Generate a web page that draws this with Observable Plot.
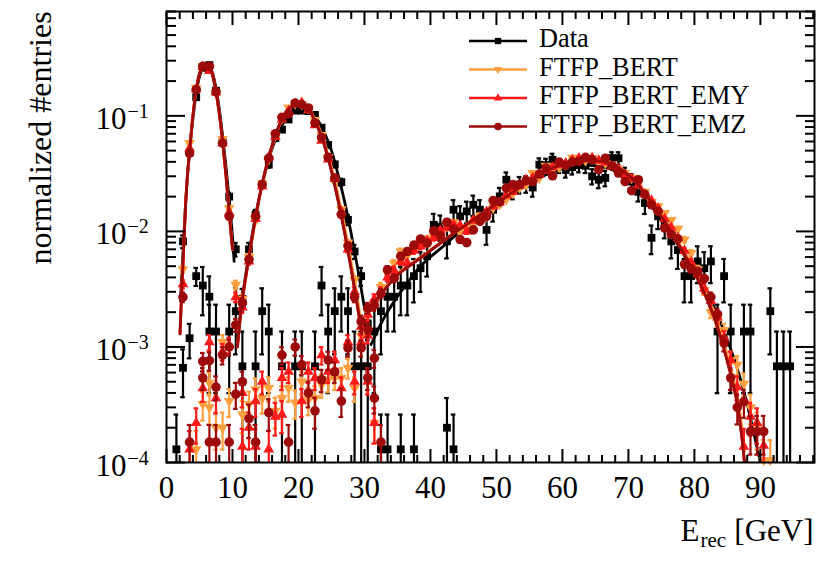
<!DOCTYPE html>
<html>
<head>
<meta charset="utf-8">
<script src="https://cdn.jsdelivr.net/npm/d3@7"></script>
<script src="https://cdn.jsdelivr.net/npm/@observablehq/plot@0.6"></script>
<style>
  body { margin: 0; background: #fff; }
  #wrap { position: relative; width: 830px; height: 564px; }
</style>
</head>
<body>
<div id="wrap"></div>
<script>
const serif = "'Liberation Serif', 'Times New Roman', serif";

// ---------- tick values / labels ----------
const xMajor = [0, 10, 20, 30, 40, 50, 60, 70, 80, 90];
const xMinor = [2,4,6,8,12,14,16,18,22,24,26,28,32,34,36,38,42,44,46,48,52,54,56,58,62,64,66,68,72,74,76,78,82,84,86,88,92,94,96,98];
const yMajor = [1e-4, 1e-3, 1e-2, 1e-1];
const yExponents = ["\u22124", "\u22123", "\u22122", "\u22121"];
const yMinor = [2e-4,3e-4,4e-4,5e-4,6e-4,7e-4,8e-4,9e-4,2e-3,3e-3,4e-3,5e-3,6e-3,7e-3,8e-3,9e-3,
                2e-2,3e-2,4e-2,5e-2,6e-2,7e-2,8e-2,9e-2,0.2,0.3,0.4,0.5,0.6,0.7,0.8];

// ---------- Data (black); bin centres k+0.5 GeV ----------
const dataUnitFine = 1.3e-4;    // weight of one entry (fine histograms)
const dataUnitCoarse = 6.8e-4;  // weight of one entry (coarse histogram)
const dataPeak10Start = 2.5;
const dataPeak10 = [8.2e-3, 0.048, 0.145, 0.26, 0.275, 0.165, 0.062, 0.020, 7.0e-3];
const dataPeak30Start = 11.5;
const dataPeak30 = [2.6e-3, 7.0e-3, 0.014, 0.0254, 0.0378, 0.064, 0.076, 0.093, 0.111, 0.111,
                    0.110, 0.102, 0.079, 0.056, 0.038, 0.0267, 0.0126, 6.7e-3, 4.1e-3, 1.6e-3];
const dataPeak100Start = 31.5;
const dataPeak100 = [1.36e-3, 2.04e-3, 2.72e-3, 2.72e-3, 3.4e-3, 3.4e-3, 4.1e-3, 4.8e-3, 6.1e-3, 0.0114,
                     0.011, 8.2e-3, 0.0154, 0.0135, 0.0149, 0.017, 0.0154, 0.0103, 0.0154, 0.0201,
                     0.028, 0.0229, 0.0254, 0.0258, 0.024, 0.0378, 0.0375, 0.0417, 0.037, 0.034,
                     0.036, 0.0375, 0.037, 0.030, 0.028, 0.029, 0.043, 0.043, 0.031, 0.027,
                     0.022, 0.0176, 8.8e-3, 0.0135, 0.0115, 8.2e-3, 6.9e-3, 4.1e-3, 4.1e-3, 5.5e-3,
                     4.8e-3, 5.5e-3, 1.36e-3, 4.1e-3, 1.36e-3, null, 1.36e-3, 1.36e-3, null, null,
                     2.04e-3, 6.8e-4, 6.8e-4, 6.8e-4];
const dataLowX = [5.5, 6.5, 6.5, 7.5, 9.5, 10.5, 11.5, 13.5, 14.5, 15.5, 17.5, 19.5, 20.5, 22.5, 23.5, 24.5, 25.5, 26.5, 27.5, 28.5, 29.5, 30.5];
const dataLowY = [3.4e-3, 2.72e-3, 1.36e-3, 1.36e-3, 1.36e-3, 2.04e-3, 6.8e-4, 6.8e-4, 2.04e-3, 1.36e-3, 6.8e-4, 6.8e-4, 6.8e-4, 6.8e-4, 3.4e-3, 1.36e-3, 2.04e-3, 2.72e-3, 2.04e-3, 6.8e-4, 6.8e-4, 6.8e-4];
const dataTailX = [1.5, 2.5, 3.5, 4.5, 32.5, 33.5, 35.5, 37.5, 42.5, 43.5];
const dataTailY = [1.3e-4, 6.6e-4, 1.19e-3, 4.1e-3, 1.3e-4, 1.3e-4, 1.3e-4, 1.3e-4, 2.0e-4, 1.3e-4];

// ---------- simulations ----------
const mcUnit = 2.5e-5;
const mcPeak10Start = 2.5, mcPeak30Start = 11.5, mcPeak100Start = 30.5;

// FTFP_BERT (orange)
const bertPeak10 = [4.7e-3, 0.058, 0.175, 0.27, 0.262, 0.158, 0.063, 0.0159, 3.45e-3];
const bertPeak30 = [2.6e-3, 6.0e-3, 0.0125, 0.026, 0.042, 0.068, 0.095, 0.118, 0.128, 0.125,
                    0.116, 0.092, 0.068, 0.044, 0.027, 0.0155, 8.0e-3, 3.8e-3, 1.24e-3, 1.4e-3];
const bertPeak100 = [2.0e-3, 2.4e-3, 3.3e-3, 4.3e-3, 5.3e-3, 6.7e-3, 6.2e-3, 7.0e-3, 7.8e-3, 8.6e-3,
                     9.0e-3, 9.8e-3, 0.011, 0.012, 0.010, 0.0108, 0.0118, 0.0137, 0.0135, 0.016,
                     0.0172, 0.019, 0.0215, 0.024, 0.0254, 0.032, 0.029, 0.037, 0.034, 0.036,
                     0.038, 0.0433, 0.042, 0.041, 0.043, 0.040, 0.039, 0.038, 0.035, 0.032,
                     0.029, 0.026, 0.022, 0.018, 0.0165, 0.0144, 0.0125, 0.0105, 0.0085, 0.0065,
                     0.0047, 0.0031, 0.0020, 0.0017, 1.4e-3, 7.7e-4, 7.0e-4, 4.8e-4, 3.0e-4, 2.0e-4,
                     1.05e-4, 1.05e-4];
const bertLowX = [4.5, 5.5, 6.5, 6.5, 7.5, 8.5, 8.5, 9.5, 11.5, 12.5, 13.5, 14.5, 15.5, 16.5, 17.5, 18.5, 19.5, 20.5, 21.5, 22.5, 23.5, 24.5, 25.5, 26.5, 27.5, 28.5, 31.5];
const bertLowY = [1.3e-4, 3.2e-4, 4.9e-4, 3.0e-4, 2.0e-4, 2.0e-4, 1.1e-3, 3.4e-4, 2.6e-4, 3.2e-4, 4.3e-4, 3.6e-4, 4.4e-4, 2.8e-4, 3.6e-4, 4.4e-4, 3.3e-4, 5.0e-4, 3.5e-4, 3.6e-4, 4.7e-4, 5.2e-4, 5.4e-4, 5.4e-4, 6.6e-4, 4.4e-4, 2.2e-4];

// FTFP_BERT_EMY (red)
const emyPeak10 = [3.5e-3, 0.052, 0.17, 0.265, 0.245, 0.16, 0.058, 0.0145, 2.7e-3];
const emyPeak30 = [2.2e-3, 5.5e-3, 0.0128, 0.0245, 0.044, 0.066, 0.093, 0.110, 0.127, 0.130,
                   0.112, 0.083, 0.061, 0.042, 0.0285, 0.0148, 7.0e-3, 3.0e-3, 1.5e-3, 1.25e-3];
const emyPeak100 = [1.9e-3, 2.6e-3, 3.0e-3, 4.0e-3, 4.6e-3, 5.5e-3, 5.3e-3, 6.8e-3, 7.4e-3, 8.3e-3,
                    8.8e-3, 0.0102, 0.0108, 0.0115, 0.0112, 0.0100, 0.0125, 0.0128, 0.0148, 0.0165,
                    0.0178, 0.0205, 0.022, 0.0248, 0.028, 0.029, 0.031, 0.0335, 0.036, 0.0375,
                    0.039, 0.0415, 0.043, 0.042, 0.0435, 0.041, 0.0395, 0.0365, 0.0345, 0.031,
                    0.0285, 0.025, 0.021, 0.0185, 0.0158, 0.0128, 0.0108, 0.0088, 0.0068, 0.0054,
                    0.0043, 0.0032, 0.0025, 0.0018, 0.0012, 7.7e-4, 4.5e-4, 1.37e-4, 2.5e-4, 2.2e-4,
                    1.4e-4, null];
const emyLowX = [3.5, 4.5, 5.5, 6.5, 7.5, 8.5, 9.5, 11.5, 11.5, 12.5, 13.5, 13.5, 14.5, 15.5, 16.5, 17.5, 17.5, 18.5, 20.5, 21.5, 22.5, 23.5, 24.5, 25.5, 26.5, 27.5, 28.5, 29.5, 30.5, 31.5];
const emyLowY = [1.3e-4, 2.2e-4, 4.4e-4, 1.1e-3, 3.6e-4, 9.1e-4, 1.04e-3, 4.0e-4, 1.37e-4, 2.0e-4, 3.4e-4, 1.37e-4, 5.0e-4, 1.3e-4, 2.5e-4, 5.4e-4, 2.6e-4, 6.1e-4, 3.4e-4, 6.1e-4, 5.4e-4, 8.5e-4, 6.1e-4, 7.7e-4, 4.4e-4, 1.1e-3, 5.0e-4, 1.1e-3, 5.0e-4, 2.2e-4];

// FTFP_BERT_EMZ (dark red)
const emzPeak10 = [2.7e-3, 0.0477, 0.169, 0.268, 0.268, 0.161, 0.058, 0.0135, 1.55e-3];
const emzPeak30 = [2.4e-3, 5.7e-3, 0.0135, 0.0254, 0.043, 0.070, 0.097, 0.104, 0.129, 0.125,
                   0.117, 0.0867, 0.065, 0.0437, 0.029, 0.014, 7.5e-3, 2.7e-3, 1.66e-3, 1.4e-3];
const emzPeak100 = [2.17e-3, 2.3e-3, 2.9e-3, 4.66e-3, 3.94e-3, 6.1e-3, 6.7e-3, 7.6e-3, 8.6e-3, 7.9e-3,
                    0.0101, 9.2e-3, 0.012, 0.0105, 8.5e-3, 8.0e-3, 0.0103, 0.0122, 0.0135, 0.0185,
                    0.018, 0.0237, 0.0254, 0.0254, 0.0275, 0.027, 0.0313, 0.0353, 0.0303, 0.0398,
                    0.0373, 0.0398, 0.0404, 0.0437, 0.0417, 0.0342, 0.043, 0.037, 0.032, 0.027,
                    0.0225, 0.028, 0.0208, 0.017, 0.0149, 0.0107, 9.4e-3, 8.6e-3, 5.2e-3, 4.75e-3,
                    4.5e-3, 3.9e-3, 2.7e-3, 1.92e-3, 1.08e-3, 5.4e-4, 3.0e-4, 3.35e-4, 1.85e-4, 1.85e-4,
                    1.85e-4];
const emzLowX = [3.5, 5.5, 5.5, 6.5, 6.5, 7.5, 7.5, 8.5, 9.5, 9.5, 10.5, 11.5, 12.5, 13.5, 15.5, 17.5, 18.5, 19.5, 20.5, 21.5, 22.5, 23.5, 24.5, 25.5, 26.5, 27.5, 29.5, 30.5, 31.5, 31.5, 32.5];
const emzLowY = [1.5e-4, 7.5e-4, 5.4e-4, 7.6e-4, 1.5e-4, 4.5e-4, 1.5e-4, 8.5e-4, 1.5e-4, 1.0e-3, 3.9e-4, 5.0e-4, 2.4e-4, 1.5e-4, 2.7e-4, 8.5e-4, 1.5e-4, 1.0e-3, 7.0e-4, 4.0e-4, 2.8e-4, 5.2e-4, 7.7e-4, 6.1e-4, 3.4e-4, 9.8e-4, 9.8e-4, 5.4e-4, 8.0e-4, 3.6e-4, 1.5e-4];

// ---------- fitted curves (knots) ----------
const dataFit1X = [2.1, 2.3, 2.6, 2.9, 3.2, 3.5, 4.0, 4.5, 5.0, 5.5, 6.0, 6.5, 7.0, 7.5, 8.0, 8.5, 9.0, 9.5, 10.0, 10.25];
const dataFit1Y = [2.5e-3, 4.0e-3, 8.5e-3, 0.018, 0.031, 0.048, 0.094, 0.155, 0.218, 0.26, 0.278, 0.27, 0.232, 0.175, 0.115, 0.067, 0.037, 0.019, 9.0e-3, 5.5e-3];
const dataFit2X = [11.0, 12, 13, 14, 15, 16, 17, 18, 19, 20, 21, 22, 23, 24, 25, 26, 27, 28, 29, 30, 30.7];
const dataFit2Y = [1.6e-3, 4.2e-3, 9.5e-3, 0.019, 0.033, 0.052, 0.073, 0.092, 0.106, 0.113, 0.113, 0.105, 0.09, 0.07, 0.05, 0.031, 0.018, 9.5e-3, 4.7e-3, 2.2e-3, 1.4e-3];
const dataFit3X = [31.0, 33, 35.5, 38.5, 42, 45, 48, 51, 54, 57, 60, 63, 65, 67, 69, 71, 73, 75, 77, 79, 81, 83, 85, 86.5, 88, 89, 90];
const dataFit3Y = [1.05e-3, 1.8e-3, 3.0e-3, 5.0e-3, 7.5e-3, 0.0105, 0.014, 0.018, 0.024, 0.030, 0.035, 0.037, 0.037, 0.035, 0.031, 0.025, 0.018, 0.0125, 8.5e-3, 5.5e-3, 3.6e-3, 2.2e-3, 1.15e-3, 6.5e-4, 3.2e-4, 1.8e-4, 1.0e-4];
const mcFit1X = [2.05, 2.3, 2.6, 2.9, 3.2, 3.5, 4.0, 4.5, 5.0, 5.5, 6.0, 6.5, 7.0, 7.5, 8.0, 8.5, 9.0, 9.5, 10.0];
const mcFit1Y = [1.3e-3, 3.0e-3, 7.0e-3, 0.017, 0.032, 0.05, 0.1, 0.168, 0.232, 0.268, 0.278, 0.265, 0.222, 0.162, 0.104, 0.06, 0.031, 0.0145, 7.0e-3];
const mcFit2X = [10.75, 11.5, 12.5, 13.5, 14.5, 15.5, 16.5, 17.5, 18.5, 19.5, 20.5, 21.5, 22.5, 23.5, 24.5, 25.5, 26.5, 27.5, 28.5, 29.6];
const mcFit2Y = [1.0e-3, 2.6e-3, 6.0e-3, 0.0132, 0.026, 0.044, 0.068, 0.093, 0.114, 0.127, 0.127, 0.114, 0.091, 0.066, 0.043, 0.025, 0.0135, 6.8e-3, 3.2e-3, 1.3e-3];
const bertFit2Y = [1.0e-3, 2.5e-3, 5.8e-3, 0.0128, 0.0255, 0.043, 0.067, 0.092, 0.114, 0.127, 0.128, 0.116, 0.094, 0.069, 0.046, 0.028, 0.0152, 7.8e-3, 3.7e-3, 1.5e-3];
const mcFit3X = [31.7, 33, 35, 38.5, 42, 45, 48, 51, 54, 57, 60, 63, 65, 67, 69, 71, 73, 75, 77, 79, 81, 83, 85, 86.5, 87.6];
const mcFit3Y = [2.5e-3, 3.1e-3, 4.2e-3, 5.9e-3, 8.3e-3, 0.011, 0.0145, 0.019, 0.025, 0.032, 0.038, 0.041, 0.041, 0.039, 0.034, 0.027, 0.0195, 0.0135, 8.8e-3, 5.6e-3, 3.4e-3, 1.8e-3, 7.5e-4, 3.2e-4, 1.0e-4];
const bertFit3Y = [2.5e-3, 3.2e-3, 4.3e-3, 6.0e-3, 8.4e-3, 0.0111, 0.0145, 0.019, 0.0248, 0.0318, 0.0378, 0.041, 0.041, 0.0392, 0.0345, 0.0275, 0.020, 0.014, 9.2e-3, 5.9e-3, 3.6e-3, 2.0e-3, 8.5e-4, 3.8e-4, 1.25e-4];

// ---------- helpers ----------
const fromStart = (start, ys, unit) => ys.map((y, i) => ({x: start + i, y, unit})).filter(d => d.y != null);
const fromPairs = (xs, ys, unit) => xs.map((x, i) => ({x, y: ys[i], unit})).filter(d => d.y != null);
const withErrors = pts => pts.map(d => {
  const s = Math.sqrt(d.y * d.unit);
  return {...d, hi: d.y + s, lo: d.y - s > 0 ? d.y - s : 5e-5};
});
const curve = (xs, ys, seg) => xs.map((x, i) => ({x, y: ys[i], seg}));

const triangleDown = {
  draw(context, size) {
    const s3 = Math.sqrt(3);
    const y = -Math.sqrt(size / (s3 * 3));
    context.moveTo(0, -y * 2);
    context.lineTo(-s3 * y, y);
    context.lineTo(s3 * y, y);
    context.closePath();
  }
};

const series = [
  {name: "Data", color: "#000000", symbol: "square", r: 4.4, legendSym: d3.symbolSquare, legendSize: 40,
   points: withErrors([
     ...fromStart(dataPeak10Start, dataPeak10, dataUnitFine),
     ...fromStart(dataPeak30Start, dataPeak30, dataUnitFine),
     ...fromStart(dataPeak100Start, dataPeak100, dataUnitCoarse),
     ...fromPairs(dataLowX, dataLowY, dataUnitCoarse),
     ...fromPairs(dataTailX, dataTailY, dataUnitFine)]),
   fit: [...curve(dataFit1X, dataFit1Y, 1), ...curve(dataFit2X, dataFit2Y, 2), ...curve(dataFit3X, dataFit3Y, 3)]},
  {name: "FTFP_BERT", color: "#ffa040", symbol: triangleDown, r: 4.0, legendSym: triangleDown, legendSize: 30,
   points: withErrors([
     ...fromStart(mcPeak10Start, bertPeak10, mcUnit),
     ...fromStart(mcPeak30Start, bertPeak30, mcUnit),
     ...fromStart(mcPeak100Start, bertPeak100, mcUnit),
     ...fromPairs(bertLowX, bertLowY, mcUnit)]),
   fit: [...curve(mcFit1X, mcFit1Y, 1), ...curve(mcFit2X, bertFit2Y, 2), ...curve(mcFit3X, bertFit3Y, 3)]},
  {name: "FTFP_BERT_EMY", color: "#ff1a1a", symbol: "triangle", r: 4.0, legendSym: d3.symbolTriangle, legendSize: 30,
   points: withErrors([
     ...fromStart(mcPeak10Start, emyPeak10, mcUnit),
     ...fromStart(mcPeak30Start, emyPeak30, mcUnit),
     ...fromStart(mcPeak100Start, emyPeak100, mcUnit),
     ...fromPairs(emyLowX, emyLowY, mcUnit)]),
   fit: [...curve(mcFit1X, mcFit1Y, 1), ...curve(mcFit2X, mcFit2Y, 2), ...curve(mcFit3X, mcFit3Y, 3)]},
  {name: "FTFP_BERT_EMZ", color: "#9c0a0a", symbol: "circle", r: 4.8, legendSym: d3.symbolCircle, legendSize: 44,
   points: withErrors([
     ...fromStart(mcPeak10Start, emzPeak10, mcUnit),
     ...fromStart(mcPeak30Start, emzPeak30, mcUnit),
     ...fromStart(mcPeak100Start, emzPeak100, mcUnit),
     ...fromPairs(emzLowX, emzLowY, mcUnit)]),
   fit: [...curve(mcFit1X, mcFit1Y, 1), ...curve(mcFit2X, mcFit2Y, 2), ...curve(mcFit3X, mcFit3Y, 3)]}
];

const marks = [];
for (const s of series) {
  marks.push(Plot.ruleX(s.points, {x: "x", y1: "lo", y2: "hi", stroke: s.color, strokeWidth: 2.2, clip: true}));
  marks.push(Plot.ruleY(s.points, {y: "hi", x1: d => d.x - 0.35, x2: d => d.x + 0.35, stroke: s.color, strokeWidth: 2.2, clip: true}));
  marks.push(Plot.ruleY(s.points.filter(d => d.lo >= 1e-4), {y: "lo", x1: d => d.x - 0.35, x2: d => d.x + 0.35, stroke: s.color, strokeWidth: 2.2, clip: true}));
  marks.push(Plot.dot(s.points, {x: "x", y: "y", symbol: s.symbol, r: s.r, fill: s.color}));
  marks.push(Plot.line(s.fit, {x: "x", y: "y", z: "seg", stroke: s.color, strokeWidth: 2.8, curve: "catmull-rom", clip: true}));
}

// axes: inward ticks on all four sides
const tick = {tickFormat: () => "", label: null, stroke: "black", strokeWidth: 2};
marks.push(
  Plot.frame({stroke: "black", strokeWidth: 2}),
  Plot.axisX({...tick, ticks: xMajor, anchor: "bottom", tickSize: 13, dy: -13}),
  Plot.axisX({...tick, ticks: xMinor, anchor: "bottom", tickSize: 7, dy: -7}),
  Plot.axisX({...tick, ticks: xMajor, anchor: "top", tickSize: 13, dy: 13}),
  Plot.axisX({...tick, ticks: xMinor, anchor: "top", tickSize: 7, dy: 7}),
  Plot.axisY({...tick, ticks: yMajor, anchor: "left", tickSize: 19, dx: 19}),
  Plot.axisY({...tick, ticks: yMinor, anchor: "left", tickSize: 10, dx: 10}),
  Plot.axisY({...tick, ticks: yMajor, anchor: "right", tickSize: 19, dx: -19}),
  Plot.axisY({...tick, ticks: yMinor, anchor: "right", tickSize: 10, dx: -10}),
  // tick labels
  Plot.text(xMajor, {x: d => d, text: d => String(d), frameAnchor: "bottom", textAnchor: "middle", lineAnchor: "bottom", dy: 35, fontSize: 31, fill: "black"}),
  Plot.text(yMajor, {y: d => d, text: () => "10", frameAnchor: "left", textAnchor: "end", lineAnchor: "bottom", dx: -40, dy: 13, fontSize: 31, fill: "black"}),
  Plot.text(yMajor, {y: d => d, text: (d, i) => yExponents[i], frameAnchor: "left", textAnchor: "start", lineAnchor: "bottom", dx: -39, dy: 2, fontSize: 20, fill: "black"}),
  // axis titles
  Plot.text(["normalized #entries"], {text: d => d, frameAnchor: "left", rotate: -90, textAnchor: "middle", lineAnchor: "bottom", dx: -116, dy: -99, fontSize: 32, fill: "black"}),
  Plot.text(["E"], {text: d => d, frameAnchor: "bottom-right", textAnchor: "start", lineAnchor: "bottom", dx: -134, dy: 78, fontSize: 31, fill: "black"}),
  Plot.text(["rec"], {text: d => d, frameAnchor: "bottom-right", textAnchor: "start", lineAnchor: "bottom", dx: -114, dy: 84, fontSize: 21, fill: "black"}),
  Plot.text(["[GeV]"], {text: d => d, frameAnchor: "bottom-right", textAnchor: "end", lineAnchor: "bottom", dx: -1, dy: 78, fontSize: 31, fill: "black"})
);

const chart = Plot.plot({
  width: 830,
  height: 564,
  marginLeft: 166,
  marginRight: 16,
  marginTop: 11,
  marginBottom: 102,
  x: {domain: [0, 98.2], label: null},
  y: {type: "log", domain: [1e-4, 0.8], label: null},
  style: {fontFamily: serif, background: "white", color: "black"},
  marks
});

const wrap = document.getElementById("wrap");
wrap.append(chart);

// legend (inside the frame, top right)
const legend = d3.select(wrap).append("svg")
  .attr("width", 330).attr("height", 125)
  .style("position", "absolute").style("left", "460px").style("top", "25px")
  .attr("font-family", serif);
series.forEach((s, i) => {
  const yLine = 16 + i * 28.5;
  legend.append("line").attr("x1", 9).attr("x2", 67).attr("y1", yLine).attr("y2", yLine)
    .attr("stroke", s.color).attr("stroke-width", 2.4);
  legend.append("path").attr("d", d3.symbol(s.legendSym, s.legendSize)())
    .attr("transform", `translate(38,${yLine})`).attr("fill", s.color);
  legend.append("text").attr("x", 79).attr("y", yLine + 6).attr("font-size", 26.3)
    .attr("font-family", serif).attr("fill", "black").text(s.name);
});
</script>
</body>
</html>
